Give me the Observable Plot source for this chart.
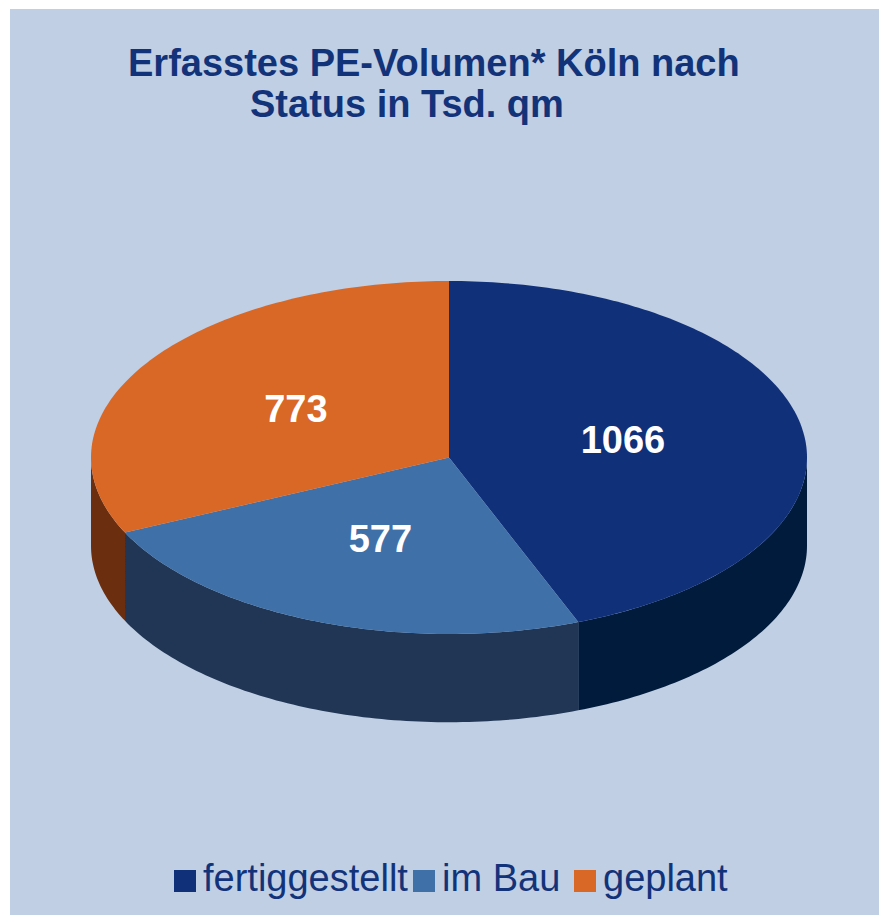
<!DOCTYPE html>
<html lang="de">
<head>
<meta charset="utf-8">
<script src="https://cdn.jsdelivr.net/npm/d3@7"></script>
<script src="https://cdn.jsdelivr.net/npm/@observablehq/plot@0.6"></script>
<style>
html,body{margin:0;padding:0;background:#fff;}
#panel{position:absolute;left:10px;top:9px;width:869px;height:906px;background:#c0cfe3;overflow:hidden;font-family:"Liberation Sans",Arial,sans-serif;color:#12337a;}
#title{position:absolute;left:0;top:34px;width:869px;height:90px;font-weight:bold;font-size:38px;line-height:41px;margin:0;}
#title span{position:absolute;white-space:nowrap;}
#chart{position:absolute;left:0;top:121px;}
#chart svg{display:block;background:transparent;}
#legend{position:absolute;left:0;top:849px;width:869px;height:50px;font-size:38px;}
#legend .sw{position:absolute;top:12px;width:22px;height:22px;}
#legend .lb{position:absolute;top:0;line-height:40px;white-space:nowrap;}
</style>
</head>
<body>
<div id="panel">
  <h1 id="title"><span style="left:118px;top:0">Erfasstes PE-Volumen* Köln nach</span><span style="left:240px;top:41px">Status in Tsd. qm</span></h1>
  <div id="chart"></div>
  <div id="legend"></div>
</div>
<script>
const categories = ["fertiggestellt", "im Bau", "geplant"];
const values = [1066, 577, 773];
const topColors = ["#10307a", "#4070a8", "#d96726"];
const wallColors = ["#011b3c", "#203654", "#6b2f10"];
const labelColor = "#ffffff";
const legendSwatchX = [164, 403, 564];
const legendLabelX = [193, 432, 593];

const depth = 0.5;
const arcStep = Math.PI / 180;

const pie = d3.pie().sort(null)(values);
const sliceArcs = pie.map((d, i) => ({category: categories[i], start: d.startAngle, end: d.endAngle, value: values[i]}));

function arcPoints(a0, a1, dy) {
  const n = Math.max(2, Math.ceil((a1 - a0) / arcStep));
  return d3.range(n + 1).map(k => {
    const a = a0 + (a1 - a0) * k / n;
    return {x: Math.sin(a), y: -Math.cos(a) + dy};
  });
}

const topPolys = sliceArcs.flatMap(s =>
  [{x: 0, y: 0}, ...arcPoints(s.start, s.end, 0)].map(p => ({...p, key: s.category})));

const wallPolys = sliceArcs.flatMap(s => {
  const a0 = Math.max(s.start, Math.PI / 2), a1 = Math.min(s.end, 3 * Math.PI / 2);
  if (a1 <= a0) return [];
  return [...arcPoints(a0, a1, 0), ...arcPoints(a0, a1, depth).reverse()].map(p => ({...p, key: s.category}));
});

const labels = sliceArcs.map(s => {
  const mid = (s.start + s.end) / 2;
  return {x: 0.5 * Math.sin(mid), y: -0.5 * Math.cos(mid), text: String(s.value)};
});

const plot = Plot.plot({
  width: 869, height: 725,
  marginTop: 0, marginBottom: 0, marginLeft: 0, marginRight: 0,
  style: {background: "transparent"},
  x: {domain: [-1, 1], range: [80.5, 796.5], axis: null},
  y: {domain: [-1, 1], range: [150.5, 503.5], axis: null},
  color: {domain: categories, range: topColors},
  marks: [
    Plot.line(wallPolys, {x: "x", y: "y", z: "key", stroke: null, fill: d => wallColors[categories.indexOf(d.key)], curve: "linear"}),
    Plot.line(topPolys, {x: "x", y: "y", z: "key", stroke: null, fill: "key", curve: "linear"}),
    Plot.text(labels, {x: "x", y: "y", dx: -2, text: "text", fill: labelColor, fontSize: 38, fontWeight: "bold", fontFamily: "Liberation Sans, Arial, sans-serif"})
  ]
});
document.getElementById("chart").appendChild(plot);

const legend = document.getElementById("legend");
categories.forEach((c, i) => {
  const sw = document.createElement("span");
  sw.className = "sw"; sw.style.left = legendSwatchX[i] + "px"; sw.style.background = topColors[i];
  const lb = document.createElement("span");
  lb.className = "lb"; lb.style.left = legendLabelX[i] + "px"; lb.textContent = c;
  legend.append(sw, lb);
});
</script>
</body>
</html>
